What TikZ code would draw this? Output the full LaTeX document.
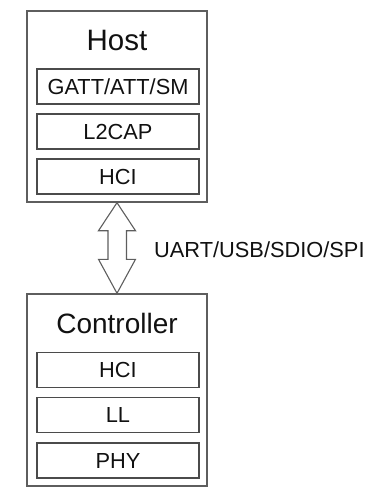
\documentclass[tikz,border=0pt]{standalone}
\usepackage{fontspec}
\setmainfont{Liberation Sans}
\usepackage{tikz}
\usetikzlibrary{calc,positioning}
\definecolor{boxgray}{HTML}{5E5E5E}
\definecolor{txtdark}{HTML}{111111}

\begin{document}
\begin{tikzpicture}[x=1pt,y=-1pt,
outer/.style={rectangle,draw=boxgray,line width=1.4pt,minimum width=180pt,inner sep=0pt},
layer/.style={rectangle,draw=boxgray!80!black,line width=1.1pt,minimum width=162pt,minimum height=35pt,inner sep=0pt,text height=15.5pt,text depth=0pt,text=txtdark,font=\fontsize{21.8}{22}\selectfont},
title/.style={text=txtdark,inner sep=0pt,text height=20.5pt,text depth=0pt}]
\useasboundingbox (0,0) rectangle (371,491);
% host side
\node (host) at (117,106.5)[outer,minimum height=191pt] {};
\node (hostlbl) at (117,40)[title,font=\fontsize{29.5}{30}\selectfont] {Host};
\node (gatt) at (118,86.5)[layer] {GATT/ATT/SM};
\node (l2cap) at (118,131.5)[layer] {L2CAP};
\node (hcih) at (118,176.5)[layer] {HCI};
% controller side
\node (ctrl) at (117,390)[outer,minimum height=192pt] {};
\node (ctrllbl) at (117,323)[title,font=\fontsize{28}{28}\selectfont] {Controller};
\node (hcic) at (118,370)[layer] {HCI};
\node (ll) at (118,415)[layer] {LL};
\node (phy) at (118,460.5)[layer] {PHY};
% transport
\draw[boxgray,line width=1.1pt,line join=miter] (host.south)
  -- ($(host.south)+(18.5,28)$) -- ($(host.south)+(9.5,28)$)
  -- ($(ctrl.north)+(9.5,-34)$) -- ($(ctrl.north)+(18.5,-34)$)
  -- (ctrl.north)
  -- ($(ctrl.north)+(-18.5,-34)$) -- ($(ctrl.north)+(-9,-34)$)
  -- ($(host.south)+(-9,28)$) -- ($(host.south)+(-18.5,28)$) -- cycle;
\node (bus) at ($(host.south)!0.5!(ctrl.north)+(37,2)$)[anchor=west,inner sep=0pt,text=txtdark,text height=15.5pt,text depth=0pt,font=\fontsize{21.8}{22}\selectfont] {UART/USB/SDIO/SPI};
\end{tikzpicture}
\end{document}
